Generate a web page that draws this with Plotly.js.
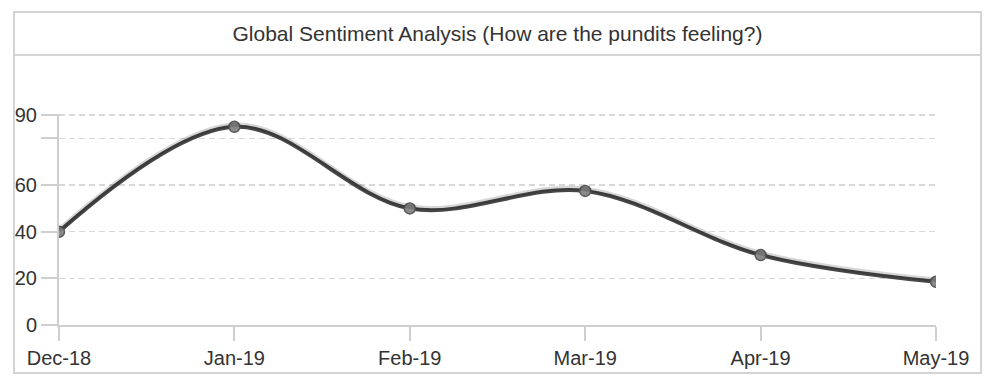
<!DOCTYPE html>
<html>
<head>
<meta charset="utf-8">
<script src="https://cdn.plot.ly/plotly-3.0.1.min.js"></script>
<style>html,body{margin:0;padding:0;background:#fff;}#chart{width:995px;height:390px;}</style>
</head>
<body>
<div id="chart"></div>
<script>
const months = ["Dec-18", "Jan-19", "Feb-19", "Mar-19", "Apr-19", "May-19"];
const sentiment = [40, 85, 50, 57.5, 30, 18.5];
const yTickVals = [0, 20, 40, 60, 80, 90];
const yTickText = ["0", "20", "40", "60", "", "90"];
const chartTitle = "Global Sentiment Analysis (How are the pundits feeling?)";

const W = 995, H = 390;
const mL = 59, mR = 59, mT = 114, mB = 65;
const pw = W - mL - mR, ph = H - mT - mB;
const px = x => (x - mL) / pw;
const py = y => (H - mB - y) / ph;

const font = "Liberation Sans, Arial, Helvetica, sans-serif";
const yMax = 90.5;
const shadowShift = 2 * yMax / ph;

const traces = [
  {
    x: months, y: sentiment, type: "scatter", mode: "lines",
    line: {shape: "spline", color: "rgba(0,0,0,0.16)", width: 4.5},
    yaxis: "y2", hoverinfo: "skip", showlegend: false
  },
  {
    x: months, y: sentiment, type: "scatter", mode: "lines+markers",
    line: {shape: "spline", color: "#474747", width: 4},
    marker: {size: 11, color: "#8a8a8a", line: {color: "#5a5a5a", width: 1.5}},
    showlegend: false
  }
];

const layout = {
  width: W, height: H,
  margin: {l: mL, r: mR, t: mT, b: mB, pad: 0},
  paper_bgcolor: "#fff", plot_bgcolor: "#fff",
  font: {family: font, size: 20, color: "#333"},
  showlegend: false,
  title: {text: chartTitle, font: {family: font, size: 21, color: "#333"},
          x: 0.5, xref: "paper", xanchor: "center", y: 1 - 34 / H, yref: "container", yanchor: "middle"},
  xaxis: {
    type: "category", range: [0, months.length - 1],
    showline: true, linecolor: "#cfcfcf", linewidth: 2,
    ticks: "outside", ticklen: 14, tickcolor: "#cfcfcf", tickwidth: 2,
    showgrid: false, zeroline: false,
    tickfont: {family: font, size: 20, color: "#333"}, fixedrange: true
  },
  yaxis: {
    range: [0, yMax],
    tickvals: yTickVals, ticktext: yTickText,
    showline: true, linecolor: "#cfcfcf", linewidth: 2,
    ticks: "outside", ticklen: 16, tickcolor: "#cfcfcf", tickwidth: 2,
    showgrid: true, gridcolor: "#d8d8d8", gridwidth: 1.5, griddash: "6px,4px",
    zeroline: false,
    tickfont: {family: font, size: 20, color: "#333"}, fixedrange: true
  },
  yaxis2: {
    overlaying: "y", range: [-shadowShift, yMax - shadowShift],
    visible: false, showgrid: false, zeroline: false, fixedrange: true
  },
  shapes: [
    {type: "rect", xref: "paper", yref: "paper",
     x0: px(14), x1: px(981), y0: py(373), y1: py(12),
     line: {color: "#d4d4d4", width: 2}, fillcolor: "rgba(0,0,0,0)", layer: "below"},
    {type: "line", xref: "paper", yref: "paper",
     x0: px(14), x1: px(981), y0: py(55), y1: py(55),
     line: {color: "#d4d4d4", width: 2}, layer: "below"}
  ]
};

Plotly.newPlot("chart", traces, layout, {displayModeBar: false, staticPlot: true});
</script>
</body>
</html>
